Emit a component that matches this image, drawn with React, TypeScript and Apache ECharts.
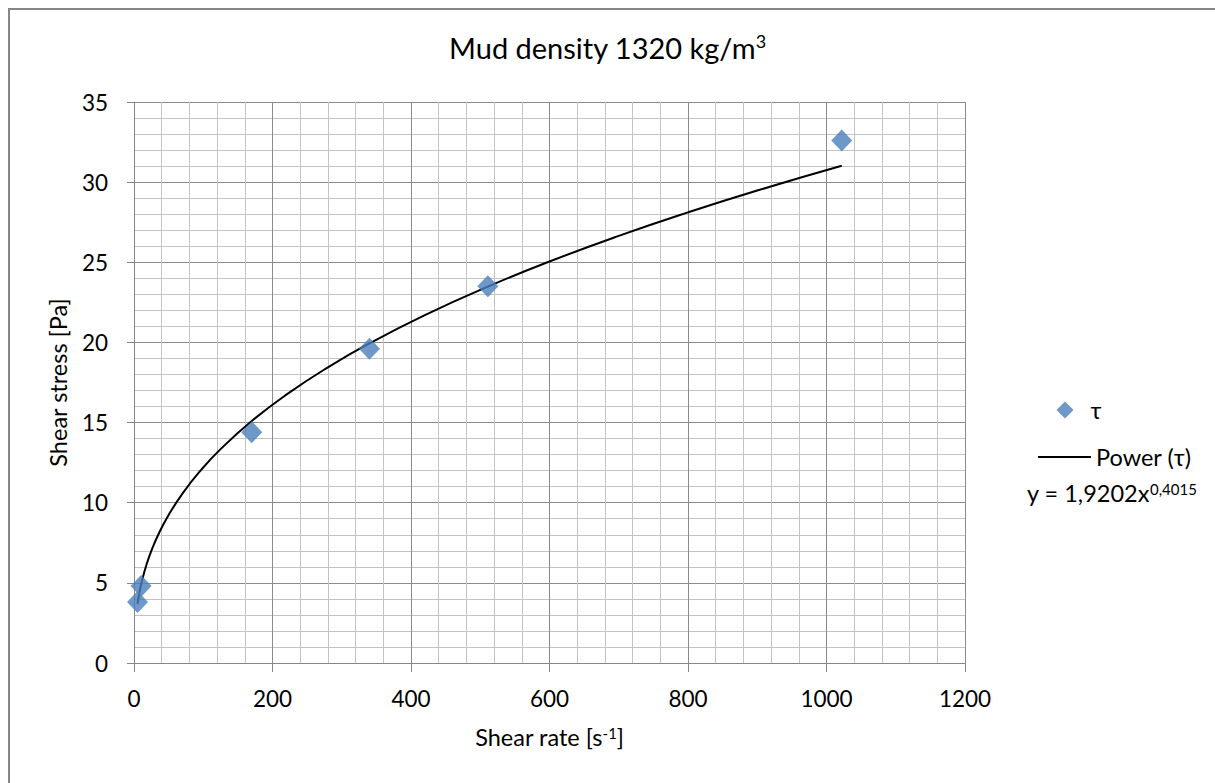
import React, { useEffect, useRef } from "react";
import * as echarts from "echarts";

// Measured data: shear rate [1/s] vs shear stress [Pa]
const shearRate = [5.1, 10.2, 170, 340, 511, 1022];
const shearStress = [3.8, 4.8, 14.4, 19.6, 23.5, 32.6];

// Power trend line as printed on the chart: y = 1,9202 x^0,4015
const powerA = 1.9202;
const powerB = 0.4015;
const trendX = [5.1, 8, 12, 18, 26, 36, 50, 70, 95, 125, 170, 220, 280, 340, 420, 511, 600, 700, 800, 900, 1022];

const xTicks = [0, 200, 400, 600, 800, 1000, 1200];
const yTicks = [0, 5, 10, 15, 20, 25, 30, 35];

const FONT = "Lato";
const LABEL_SIZE = 22.5;
const NAME_SIZE = 23.5;
const MARKER = "#4a7ebb";

export default function App() {
  const ref = useRef<HTMLDivElement>(null);
  useEffect(() => {
    if (!ref.current) return;
    const chart = echarts.init(ref.current, null, { renderer: "svg" });
    const scatterData = shearRate.map((x, i) => [x, shearStress[i]]);
    const trendData = trendX.map((x) => [x, powerA * Math.pow(x, powerB)]);
    const supStyle = (size: number, pad: number) => ({
      fontFamily: FONT,
      fontSize: size,
      color: "#000",
      verticalAlign: "top",
      padding: [0, 0, pad, 0],
    });
    chart.setOption({
      animation: false,
      backgroundColor: "#ffffff",
      textStyle: { fontFamily: FONT },
      title: {
        text: "Mud density 1320 kg/m{sup|3}",
        left: "center",
        top: 27,
        textStyle: {
          fontFamily: FONT,
          fontSize: 29,
          fontWeight: "normal",
          color: "#000",
          rich: { sup: supStyle(18, 12) },
        },
      },
      grid: { left: 134, right: 250, top: 102, bottom: 120 },
      legend: [
        {
          data: [{ name: "τ", icon: "diamond" }],
          left: 1051.5,
          top: 393,
          itemWidth: 17,
          itemHeight: 17,
          textStyle: { fontFamily: FONT, fontSize: NAME_SIZE, color: "#000", padding: [0, 0, 0, 12] },
          selectedMode: false,
        },
        {
          data: [{ name: "Power (τ)", icon: "rect" }],
          left: 1033,
          top: 440,
          itemWidth: 53,
          itemHeight: 2,
          textStyle: { fontFamily: FONT, fontSize: NAME_SIZE, color: "#000" },
          selectedMode: false,
        },
      ],
      xAxis: {
        type: "value",
        min: xTicks[0],
        max: xTicks[xTicks.length - 1],
        interval: 200,
        name: "Shear rate [s{sup|-1}]",
        nameLocation: "middle",
        nameGap: 62,
        nameTextStyle: {
          fontFamily: FONT,
          fontSize: NAME_SIZE,
          color: "#000",
          rich: { sup: supStyle(15, 9) },
        },
        axisLine: { show: true, lineStyle: { color: "#868686", width: 1 } },
        axisTick: { show: true, length: 9, inside: false, lineStyle: { color: "#868686" } },
        axisLabel: {
          fontFamily: FONT,
          fontSize: LABEL_SIZE,
          color: "#000",
          margin: 24,
          formatter: (v: number) => String(v),
        },
        splitLine: { show: true, lineStyle: { color: "#8c8c8c", width: 1 } },
        minorTick: { show: false, splitNumber: 5 },
        minorSplitLine: { show: true, lineStyle: { color: "#c3c3c3", width: 1 } },
      },
      yAxis: {
        type: "value",
        min: yTicks[0],
        max: yTicks[yTicks.length - 1],
        interval: 5,
        name: "Shear stress [Pa]",
        nameLocation: "middle",
        nameGap: 64,
        nameTextStyle: { fontFamily: FONT, fontSize: NAME_SIZE, color: "#000" },
        axisLine: { show: true, lineStyle: { color: "#868686", width: 1 } },
        axisTick: { show: true, length: 7, inside: false, lineStyle: { color: "#868686" } },
        axisLabel: {
          fontFamily: FONT,
          fontSize: LABEL_SIZE,
          color: "#000",
          margin: 26,
          formatter: (v: number) => String(v),
        },
        splitLine: { show: true, lineStyle: { color: "#8c8c8c", width: 1 } },
        minorTick: { show: false, splitNumber: 5 },
        minorSplitLine: { show: true, lineStyle: { color: "#c3c3c3", width: 1 } },
      },
      series: [
        {
          name: "Power (τ)",
          type: "line",
          data: trendData,
          smooth: true,
          showSymbol: false,
          symbol: "none",
          itemStyle: { color: "#000" },
          lineStyle: { color: "#000", width: 2 },
          z: 2,
        },
        {
          name: "τ",
          type: "scatter",
          data: scatterData,
          symbol: "diamond",
          symbolSize: [21, 22],
          itemStyle: { color: MARKER, borderWidth: 0 },
          z: 3,
        },
      ],
      graphic: [
        {
          type: "rect",
          shape: { x: 9, y: 9, width: 1230, height: 800 },
          style: { fill: "none", stroke: "#868686", lineWidth: 2 },
          silent: true,
        },
        {
          type: "text",
          left: 1027,
          top: 481,
          style: {
            text: "y = 1,9202x{sup|0,4015}",
            fontFamily: FONT,
            fontSize: NAME_SIZE,
            fill: "#000",
            rich: {
              sup: { fontFamily: FONT, fontSize: 15, fill: "#000", verticalAlign: "top", padding: [0, 0, 9, 0] },
            },
          },
        },
      ],
    });
    return () => chart.dispose();
  }, []);
  return <div ref={ref} style={{ position: "absolute", left: 0, top: 0, width: 1215, height: 783 }} />;
}
